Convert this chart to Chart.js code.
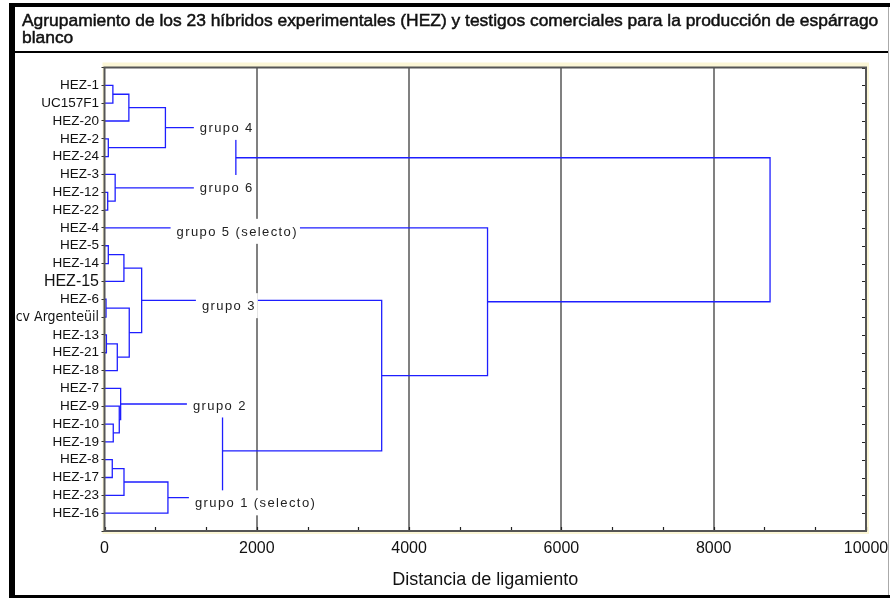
<!DOCTYPE html>
<html>
<head>
<meta charset="utf-8">
<script src="https://cdn.jsdelivr.net/npm/chart.js@4.4.1/dist/chart.umd.min.js"></script>
<style>
html, body { margin: 0; padding: 0; background: #fff; }
#wrap { position: relative; width: 890px; height: 598px; overflow: hidden; }
#c { position: absolute; left: 0; top: 0; }
.bar { position: absolute; background: #000; }
#title {
    position: absolute; left: 22px; top: 12px;
    font-family: "Liberation Sans", Arial, sans-serif; font-size: 16px; line-height: 16.5px;
    color: #111; white-space: nowrap; -webkit-text-stroke: 0.5px #111;
}
</style>
</head>
<body>
<div id="wrap">
    <canvas id="c" width="890" height="598"></canvas>
    <div id="title"><span id="t1">Agrupamiento de los 23 híbridos experimentales (HEZ) y testigos comerciales para la producción de espárrago</span><br>blanco</div>
    <div class="bar" style="left:9px;top:3px;width:881px;height:4px"></div>
    <div class="bar" style="left:9px;top:3px;width:6px;height:595px"></div>
    <div class="bar" style="left:15px;top:51px;width:874px;height:2px"></div>
    <div class="bar" style="left:9px;top:595px;width:881px;height:3px"></div>
    <div class="bar" style="left:888px;top:7px;width:1px;height:588px;background:#aaa"></div>
</div>
<script>
// leaves, top to bottom
const leafNames = ['HEZ-1', 'UC157F1', 'HEZ-20', 'HEZ-2', 'HEZ-24', 'HEZ-3', 'HEZ-12', 'HEZ-22', 'HEZ-4',
    'HEZ-5', 'HEZ-14', 'HEZ-15', 'HEZ-6', 'cv Argenteüil', 'HEZ-13', 'HEZ-21', 'HEZ-18',
    'HEZ-7', 'HEZ-9', 'HEZ-10', 'HEZ-19', 'HEZ-8', 'HEZ-17', 'HEZ-23', 'HEZ-16'];

// merges (linkage style): node id = leafNames.length + index
const mergeA = [0, 25, 3, 26, 6, 5, 9, 31, 12, 14, 34, 33, 32, 19, 18, 17, 21, 41, 42, 40, 28, 37, 8, 45];
const mergeB = [1, 2, 4, 27, 7, 29, 10, 11, 13, 15, 16, 35, 36, 20, 38, 39, 22, 23, 24, 43, 30, 44, 46, 47];
const mergeHeight = [110, 320, 50, 800, 42, 140, 50, 255, 20, 25, 168, 325, 488, 115, 194, 212, 102, 256, 833, 1550, 1725, 3640, 5030, 8740];

// group annotations
const groupNames = ['grupo 4', 'grupo 6', 'grupo 5 (selecto)', 'grupo 3', 'grupo 2', 'grupo 1 (selecto)'];
const groupTextX = [1252, 1252, 947, 1279, 1161, 1187];
const groupRow = [3.36, 6.73, 9.19, 13.36, 18.93, 24.42];

const xMax = 10000;

// fit the title line to the frame width
const t1 = document.getElementById('t1');
const tw = t1.getBoundingClientRect().width;
document.getElementById('title').style.fontSize = (16 * 857 / tw) + 'px';

const pos = leafNames.map((n, i) => ({h: 0, row: i + 1}));
mergeA.forEach((a, k) => {
    pos[leafNames.length + k] = {h: mergeHeight[k], row: (pos[a].row + pos[mergeB[k]].row) / 2};
});

const datasets = mergeA.map((a, k) => {
    const b = mergeB[k], h = mergeHeight[k];
    return {
        data: [
            {x: pos[a].h, y: pos[a].row},
            {x: h, y: pos[a].row},
            {x: h, y: pos[b].row},
            {x: pos[b].h, y: pos[b].row}
        ],
        showLine: true,
        borderColor: 'rgb(30,30,255)',
        borderWidth: 1.3,
        pointRadius: 0,
        tension: 0
    };
});

const frame = {
    id: 'frame',
    beforeDraw(chart) {
        const {ctx, chartArea: a} = chart;
        ctx.save();
        ctx.fillStyle = '#fbf6d6';
        ctx.fillRect(a.left - 2, a.top - 5, a.right - a.left + 5, a.bottom - a.top + 8);
        ctx.fillStyle = '#fff';
        ctx.fillRect(a.left, a.top, a.right - a.left, a.bottom - a.top);
        ctx.restore();
    },
    afterDraw(chart) {
        const {ctx, chartArea: a, scales: {x, y}} = chart;
        ctx.save();
        // inward ticks on right and bottom
        ctx.strokeStyle = '#222';
        ctx.lineWidth = 1.2;
        ctx.beginPath();
        y.ticks.forEach(t => {
            const py = Math.round(y.getPixelForValue(t.value)) + 0.5;
            ctx.moveTo(a.right, py);
            ctx.lineTo(a.right - 4, py);
        });
        x.ticks.forEach(t => {
            const px = Math.round(x.getPixelForValue(t.value)) + 0.5;
            ctx.moveTo(px, a.bottom);
            ctx.lineTo(px, a.bottom - 4);
        });
        ctx.stroke();
        ctx.strokeStyle = '#555';
        ctx.lineWidth = 2;
        ctx.strokeRect(a.left, a.top, a.right - a.left, a.bottom - a.top);

        // group labels on white boxes
        ctx.font = '13px "Liberation Sans", Arial, sans-serif';
        ctx.letterSpacing = '1.4px';
        ctx.textBaseline = 'middle';
        groupNames.forEach((name, i) => {
            const tx = x.getPixelForValue(groupTextX[i]);
            const cy = y.getPixelForValue(groupRow[i]);
            const w = ctx.measureText(name).width;
            ctx.fillStyle = '#fff';
            ctx.fillRect(tx - 6, cy - 12.5, w + 8, 25);
            ctx.fillStyle = '#222';
            ctx.fillText(name, tx, cy + 1);
        });
        ctx.restore();
    }
};

const baseFont = '"Liberation Sans", Arial, sans-serif';

new Chart(document.getElementById('c'), {
    type: 'scatter',
    data: {datasets: datasets},
    options: {
        responsive: false,
        devicePixelRatio: 1,
        animation: false,
        layout: {padding: {left: 0, top: 67.5, right: 24, bottom: 0}},
        plugins: {legend: {display: false}, tooltip: {enabled: false}},
        scales: {
            x: {
                type: 'linear', position: 'bottom', min: 0, max: xMax, z: 1,
                afterBuildTicks: s => { s.ticks = Array.from({length: 16}, (_, k) => ({value: k * xMax / 15})); },
                afterFit: s => { s.height = 67; s.paddingLeft = 0; s.paddingRight = 0; },
                border: {display: false},
                grid: {
                    drawTicks: false,
                    lineWidth: 2,
                    color: c => (c.index % 3 === 0 && c.index > 0 && c.index < 15) ? '#808080' : 'rgba(0,0,0,0)'
                },
                ticks: {
                    autoSkip: false, maxRotation: 0, padding: 8, color: '#111',
                    font: {family: baseFont, size: 16},
                    callback: (v, i) => i % 3 === 0 ? String(Math.round(v)) : ''
                },
                title: {
                    display: true, text: 'Distancia de ligamiento', color: '#111',
                    font: {family: baseFont, size: 18},
                    padding: {top: 0, bottom: 7}
                }
            },
            y: {
                type: 'linear', position: 'left', min: 0, max: 26, reverse: true,
                afterBuildTicks: s => { s.ticks = Array.from({length: 27}, (_, k) => ({value: k})); },
                afterFit: s => { s.width = 104.5; s.paddingTop = 0; s.paddingBottom = 0; },
                border: {display: false},
                grid: {drawOnChartArea: false, drawTicks: true, tickLength: 3, tickColor: '#333'},
                ticks: {
                    autoSkip: false, padding: 2.5, color: '#111',
                    callback: v => leafNames[v - 1] || '',
                    font: c => {
                        const name = c.tick ? leafNames[c.tick.value - 1] : '';
                        if (name === 'cv Argenteüil') return {family: '"Liberation Sans Narrow", "DejaVu Sans Condensed", sans-serif', size: 14};
                        if (name === 'HEZ-15') return {family: baseFont, size: 16};
                        return {family: baseFont, size: 13.5};
                    }
                }
            }
        }
    },
    plugins: [frame]
});
</script>
</body>
</html>
